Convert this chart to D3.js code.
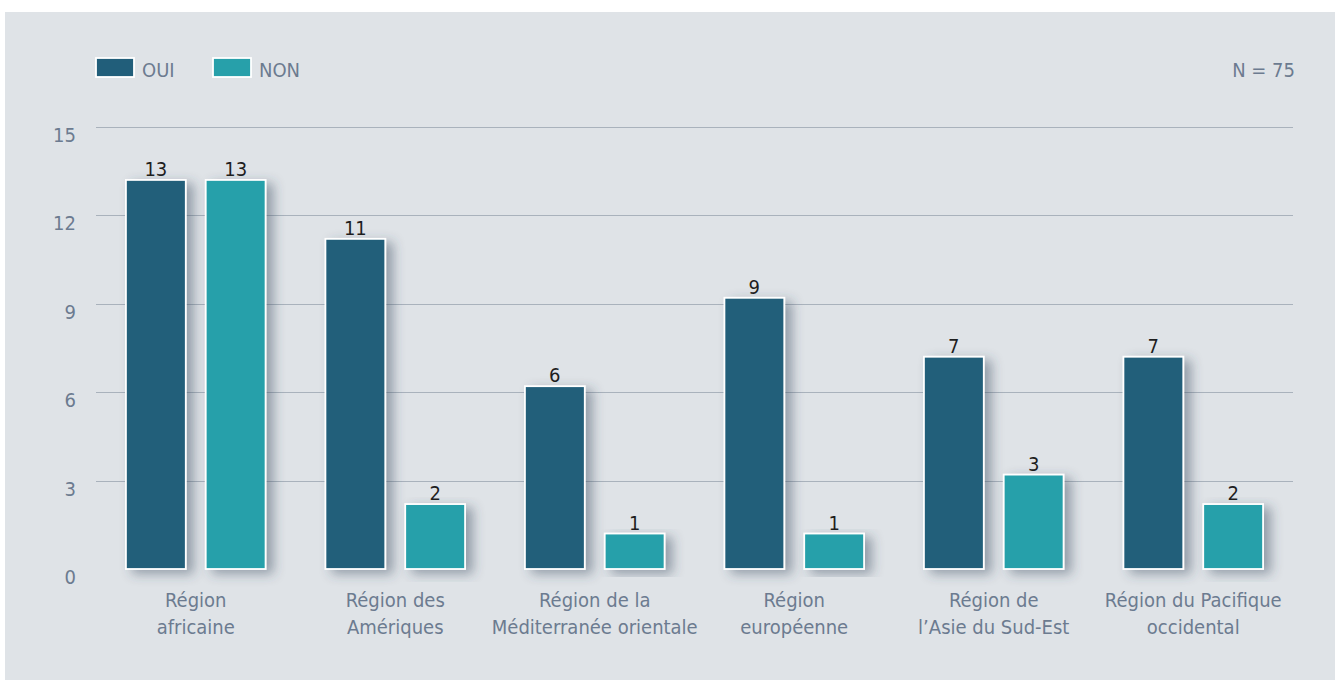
<!DOCTYPE html>
<html>
<head>
<meta charset="utf-8">
<script src="https://cdn.jsdelivr.net/npm/d3@7"></script>
<style>
  html, body { margin: 0; padding: 0; background: #fff; }
  svg { display: block; }
  text { font-family: "DejaVu Sans Condensed", "Liberation Sans Narrow", "Roboto", sans-serif; }
</style>
</head>
<body>
<svg id="chart" width="1335" height="680"></svg>
<script>
const REGIONS = [
  ["Région", "africaine"],
  ["Région des", "Amériques"],
  ["Région de la", "Méditerranée orientale"],
  ["Région", "européenne"],
  ["Région de", "l’Asie du Sud-Est"],
  ["Région du Pacifique", "occidental"]
];
const SERIES = ["OUI", "NON"];
const OUI = [13, 11, 6, 9, 7, 7];
const NON = [13, 2, 1, 1, 3, 2];
const Y_TICKS = [0, 3, 6, 9, 12, 15];
const N_LABEL = "N = 75";

const COLORS = { OUI: "#215e7a", NON: "#27a0aa" };
const TEXT_GREY = "#6c7b90";

const W = 1335, H = 680;
const margin = { left: 96, right: 42, top: 128, bottom: 110 };

const svg = d3.select("#chart");

// soft shadow behind bars and baseline
const defs = svg.append("defs");
const f = defs.append("filter").attr("id", "shadow")
  .attr("x", "-30%").attr("y", "-10%").attr("width", "180%").attr("height", "130%");
f.append("feDropShadow")
  .attr("dx", 7).attr("dy", 4).attr("stdDeviation", 6)
  .attr("flood-color", "#36445a").attr("flood-opacity", 0.45);

svg.append("rect")
  .attr("x", 5).attr("y", 12).attr("width", W - 5).attr("height", H - 12)
  .attr("fill", "#dfe3e7");

const x0 = d3.scaleBand()
  .domain(d3.range(REGIONS.length))
  .range([margin.left, W - margin.right])
  .paddingInner(0.3).paddingOuter(0.15);

const x1 = d3.scaleBand()
  .domain(SERIES)
  .range([0, x0.bandwidth()])
  .padding(0.25).paddingOuter(0);

const y = d3.scaleLinear().domain([0, 15]).range([569, 127]);

// gridlines
svg.append("g")
  .selectAll("line")
  .data(Y_TICKS.filter(d => d > 0))
  .join("line")
  .attr("x1", margin.left).attr("x2", W - margin.right)
  .attr("y1", d => Math.round(y(d)) + 0.5).attr("y2", d => Math.round(y(d)) + 0.5)
  .attr("stroke", "#a9b2bc").attr("stroke-width", 1.2);

// y tick labels (sit a little below their gridline)
svg.append("g")
  .selectAll("text")
  .data(Y_TICKS)
  .join("text")
  .attr("x", 76).attr("y", d => y(d) + 15)
  .attr("text-anchor", "end")
  .attr("font-size", 20)
  .attr("fill", TEXT_GREY)
  .text(d => d);

// baseline with shadow
svg.append("line")
  .attr("x1", margin.left).attr("x2", W - margin.right)
  .attr("y1", y(0) + 1).attr("y2", y(0) + 1)
  .attr("stroke", "#a4aeb9").attr("stroke-width", 2.5)
  .attr("filter", "url(#shadow)");

const rows = REGIONS.map((r, i) => ({ i, OUI: OUI[i], NON: NON[i] }));
const barLift = 6;

const groups = svg.append("g")
  .selectAll("g")
  .data(rows)
  .join("g")
  .attr("transform", d => `translate(${x0(d.i)},0)`);

const bars = groups.selectAll("g")
  .data(d => SERIES.map(k => ({ key: k, value: d[k] })))
  .join("g");

bars.append("rect")
  .attr("x", d => x1(d.key))
  .attr("y", d => y(d.value) - barLift)
  .attr("width", x1.bandwidth())
  .attr("height", d => y(0) - y(d.value) + barLift)
  .attr("fill", d => COLORS[d.key])
  .attr("stroke", "#fff").attr("stroke-width", 1.8)
  .attr("filter", "url(#shadow)");

bars.append("text")
  .attr("x", d => x1(d.key) + x1.bandwidth() / 2)
  .attr("y", d => y(d.value) - barLift - 4)
  .attr("text-anchor", "middle")
  .attr("font-size", 20)
  .attr("fill", "#1e1e1e")
  .text(d => d.value);

// category labels
svg.append("g")
  .selectAll("text")
  .data(REGIONS)
  .join("text")
  .attr("text-anchor", "middle")
  .attr("font-size", 20)
  .attr("fill", TEXT_GREY)
  .each(function (lines, i) {
    const t = d3.select(this);
    lines.forEach((ln, j) => {
      t.append("tspan")
        .attr("x", x0(i) + x0.bandwidth() / 2)
        .attr("y", 607 + j * 27)
        .text(ln);
    });
  });

// legend
const legend = svg.append("g")
  .selectAll("g")
  .data(SERIES)
  .join("g")
  .attr("transform", (d, i) => `translate(${96 + i * 117},58)`);

legend.append("rect")
  .attr("width", 38).attr("height", 19)
  .attr("fill", d => COLORS[d])
  .attr("stroke", "#fff").attr("stroke-width", 1.8);

legend.append("text")
  .attr("x", 46).attr("y", 19)
  .attr("font-size", 20)
  .attr("fill", TEXT_GREY)
  .text(d => d);

svg.append("text")
  .attr("x", 1295).attr("y", 77)
  .attr("text-anchor", "end")
  .attr("font-size", 20)
  .attr("fill", TEXT_GREY)
  .text(N_LABEL);
</script>
</body>
</html>
